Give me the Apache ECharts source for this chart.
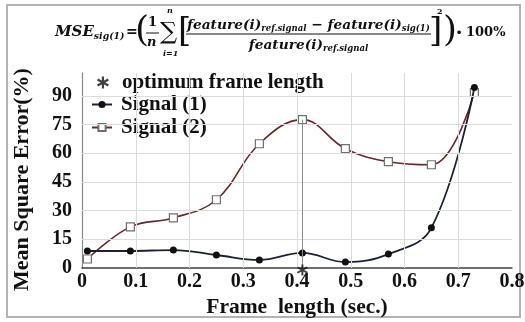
<!DOCTYPE html>
<html><head><meta charset="utf-8">
<script src="https://cdn.jsdelivr.net/npm/echarts@6/dist/echarts.min.js"></script>
<style>html,body{margin:0;padding:0;background:#fff}#c{width:525px;height:322px}</style>
</head><body><div id="c"></div>
<script>
const frameLength = [0.01, 0.09, 0.17, 0.25, 0.33, 0.41, 0.49, 0.57, 0.65, 0.73];
const signal1 = [8.9, 8.9, 9.4, 6.8, 4.2, 7.9, 3.1, 7.3, 21, 94.4];
const signal2 = [4.7, 21.5, 26.2, 35.7, 65, 77.6, 62.4, 55.6, 54, 91.8];
const optimumX = 0.41;
const optimumY = 77.6;
const xTicks = [0, 0.1, 0.2, 0.3, 0.4, 0.5, 0.6, 0.7, 0.8];
const yTicks = [0, 15, 30, 45, 60, 75, 90];
const xGrid = [0.1, 0.2, 0.3, 0.4, 0.5, 0.6, 0.7];
const yGrid = [15, 30, 45, 60, 75, 90];

const SERIF = "'Liberation Serif','Times New Roman',serif";
const MATHF = "'DejaVu Serif'";
const star = 'path://M4.1,0 L5.9,0 L5.9,10 L4.1,10 Z M0.05,3.28 L0.95,1.72 L9.95,6.72 L9.05,8.28 Z M9.05,1.72 L9.95,3.28 L0.95,8.28 L0.05,6.72 Z';

const ctx = document.createElement('canvas').getContext('2d');
function fontStr(size, italic, weight) { return (italic ? 'italic ' : '') + (weight || 'bold') + ' ' + size + 'px ' + MATHF + ',serif'; }
function measure(text, size, italic, weight) { ctx.font = fontStr(size, italic, weight); return ctx.measureText(text).width; }
function t(text, x, y, size, opt) {
  opt = opt || {};
  const italic = opt.italic !== false;
  return {type:'text', x:x, y:y, silent:true, style:{text:text, font: fontStr(size, italic, opt.weight),
    fill:'#111', textAlign: opt.align || 'left', textVerticalAlign:'middle'}};
}
function runWidth(tokens, base) { return tokens.reduce((s,k) => s + measure(k[0], base*k[1], k[3] !== false), 0); }
function layoutRun(tokens, x, y, base) {
  const out = []; let cx = x;
  tokens.forEach(k => {
    const sz = base*k[1];
    out.push(t(k[0], cx, y + k[2], sz, {italic: k[3] !== false}));
    cx += measure(k[0], sz, k[3] !== false);
  });
  return out;
}
const numTokens = [['feature(i)',1,0],['ref.signal',0.62,4],[' \u2212 ',1,0,false],['feature(i)',1,0],['sig(1)',0.62,4]];
const denTokens = [['feature(i)',1,0],['ref.signal',0.62,4]];
const fracL = 187, fracR = 430;
const base = 14 * (fracR - fracL) / runWidth(numTokens, 14);
const denW = runWidth(denTokens, base);
const msePart = [['MSE',1,0],['sig(1)',0.62,5]];

const formula = []
  .concat(layoutRun(msePart, 55, 32, 15))
  .concat([
  t('=', 126, 32, 14, {italic:false}),
  t('(', 135, 32, 36, {weight:'normal', italic:false}),
  t('1', 148, 23, 13, {italic:false}),
  t('n', 147, 43, 13),
  {type:'line', silent:true, shape:{x1:146,y1:33,x2:159,y2:33}, style:{stroke:'#111', lineWidth:1}},
  t('\u2211', 160, 33, 24, {weight:'normal', italic:false}),
  t('n', 167, 11, 8),
  t('i=1', 163, 54, 8),
  t('[', 178, 32, 34, {weight:'normal', italic:false})
  ])
  .concat(layoutRun(numTokens, fracL, 25, base))
  .concat([{type:'line', silent:true, shape:{x1:fracL-1,y1:34,x2:fracR+1,y2:34}, style:{stroke:'#111', lineWidth:1.2}}])
  .concat(layoutRun(denTokens, (fracL + fracR)/2 - denW/2, 45, base))
  .concat([
  t(']', 429, 32, 34, {weight:'normal', italic:false}),
  t('2', 437, 12, 8, {italic:false}),
  t(')', 443, 32, 36, {weight:'normal', italic:false}),
  t('\u2219', 456, 33, 12, {italic:false}),
  t('100%', 466, 33, 13, {italic:false})
  ]);

const legendText = {fontFamily:SERIF, fontWeight:'bold', fontSize:21, color:'#111', padding:[0,0,0,4]};
const chart = echarts.init(document.getElementById('c'), null, {renderer:'canvas'});
chart.setOption({
  animation:false,
  backgroundColor:'#fff',
  graphic: [
    {type:'rect', silent:true, shape:{x:7,y:5,width:513,height:312}, style:{fill:'none', stroke:'#b3b3b3', lineWidth:2}, z:-1}
  ].concat(formula),
  grid:{left:82, right:13, top:73, bottom:54, containLabel:false, outerBoundsMode:'none'},
  legend:[
    {
      orient:'vertical', left:97, top:72, padding:0, itemWidth:12, itemHeight:12, itemGap:0,
      textStyle:Object.assign({}, legendText, {padding:[0,0,0,8]}),
      data:[{name:'optimum frame length', icon: star, itemStyle:{color:'#111'}}]
    },
    {
      orient:'vertical', left:91, top:94, padding:0, itemWidth:20, itemHeight:9, itemGap:2,
      textStyle:legendText,
      data:[{name:'Signal (1)'},{name:'Signal (2)'}]
    }
  ],
  xAxis:{
    type:'value', min:0, max:0.8, interval:0.1,
    name:'Frame  length (sec.)', nameLocation:'middle', nameGap:28,
    nameTextStyle:{fontFamily:SERIF, fontWeight:'bold', fontSize:21.5, color:'#111'},
    axisLine:{lineStyle:{color:'#404040', width:1.5}},
    axisTick:{show:false},
    splitLine:{show:false},
    axisLabel:{margin:4, fontFamily:SERIF, fontWeight:'bold', fontSize:20, color:'#111',
      formatter: v => { const m = xTicks.find(x => Math.abs(x - v) < 1e-9); return m === 0 ? '0' : (m !== undefined ? m.toFixed(1) : ''); }}
  },
  yAxis:{
    type:'value', min:0, max:102, interval:15,
    name:'Mean Square Error(%)', nameLocation:'middle', nameGap:49, nameRotate:90,
    nameTextStyle:{fontFamily:SERIF, fontWeight:'bold', fontSize:22, color:'#111', padding:[0,18,0,0]},
    axisLine:{show:true, lineStyle:{color:'#8a8a8a', width:1.2}},
    axisTick:{show:false},
    splitLine:{show:false},
    axisLabel:{showMaxLabel:false, margin:10, fontFamily:SERIF, fontWeight:'bold', fontSize:20, color:'#111',
      formatter: v => yTicks.indexOf(v) >= 0 ? String(v) : ''}
  },
  series:[
    {
      name:'grid', type:'line', data:[], z:1, silent:true,
      markLine:{silent:true, symbol:'none', label:{show:false}, animation:false,
        lineStyle:{color:'#dcdcdc', width:1, type:'solid'},
        data: yGrid.map(v => ({yAxis:v})).concat(xGrid.map(v => ({xAxis:v})))}
    },
    {
      name:'Signal (2)', type:'line', smooth:0.4, z:3,
      data: frameLength.map((x,i) => [x, signal2[i]]),
      symbol:'rect', symbolSize:8,
      lineStyle:{color:'#6e2525', width:1.6},
      itemStyle:{color:'#fff', borderColor:'#707070', borderWidth:1.2},
      markLine:{silent:true, symbol:'none', label:{show:false}, animation:false,
        lineStyle:{color:'#8c8c8c', width:1, type:'solid'},
        data:[[{coord:[optimumX,0]},{coord:[optimumX,optimumY]}]]}
    },
    {
      name:'Signal (1)', type:'line', smooth:0.4, z:4,
      data: frameLength.map((x,i) => [x, signal1[i]]),
      symbol:'circle', symbolSize:7,
      lineStyle:{color:'#1b2236', width:1.8},
      itemStyle:{color:'#111', borderColor:'#111', borderWidth:0}
    },
    {
      name:'optimum frame length', type:'scatter', z:5, clip:false,
      data:[[optimumX, 0]], symbol: star, symbolSize:11, symbolOffset:[0,2],
      itemStyle:{color:'#111'}
    }
  ]
});
</script>
</body></html>
